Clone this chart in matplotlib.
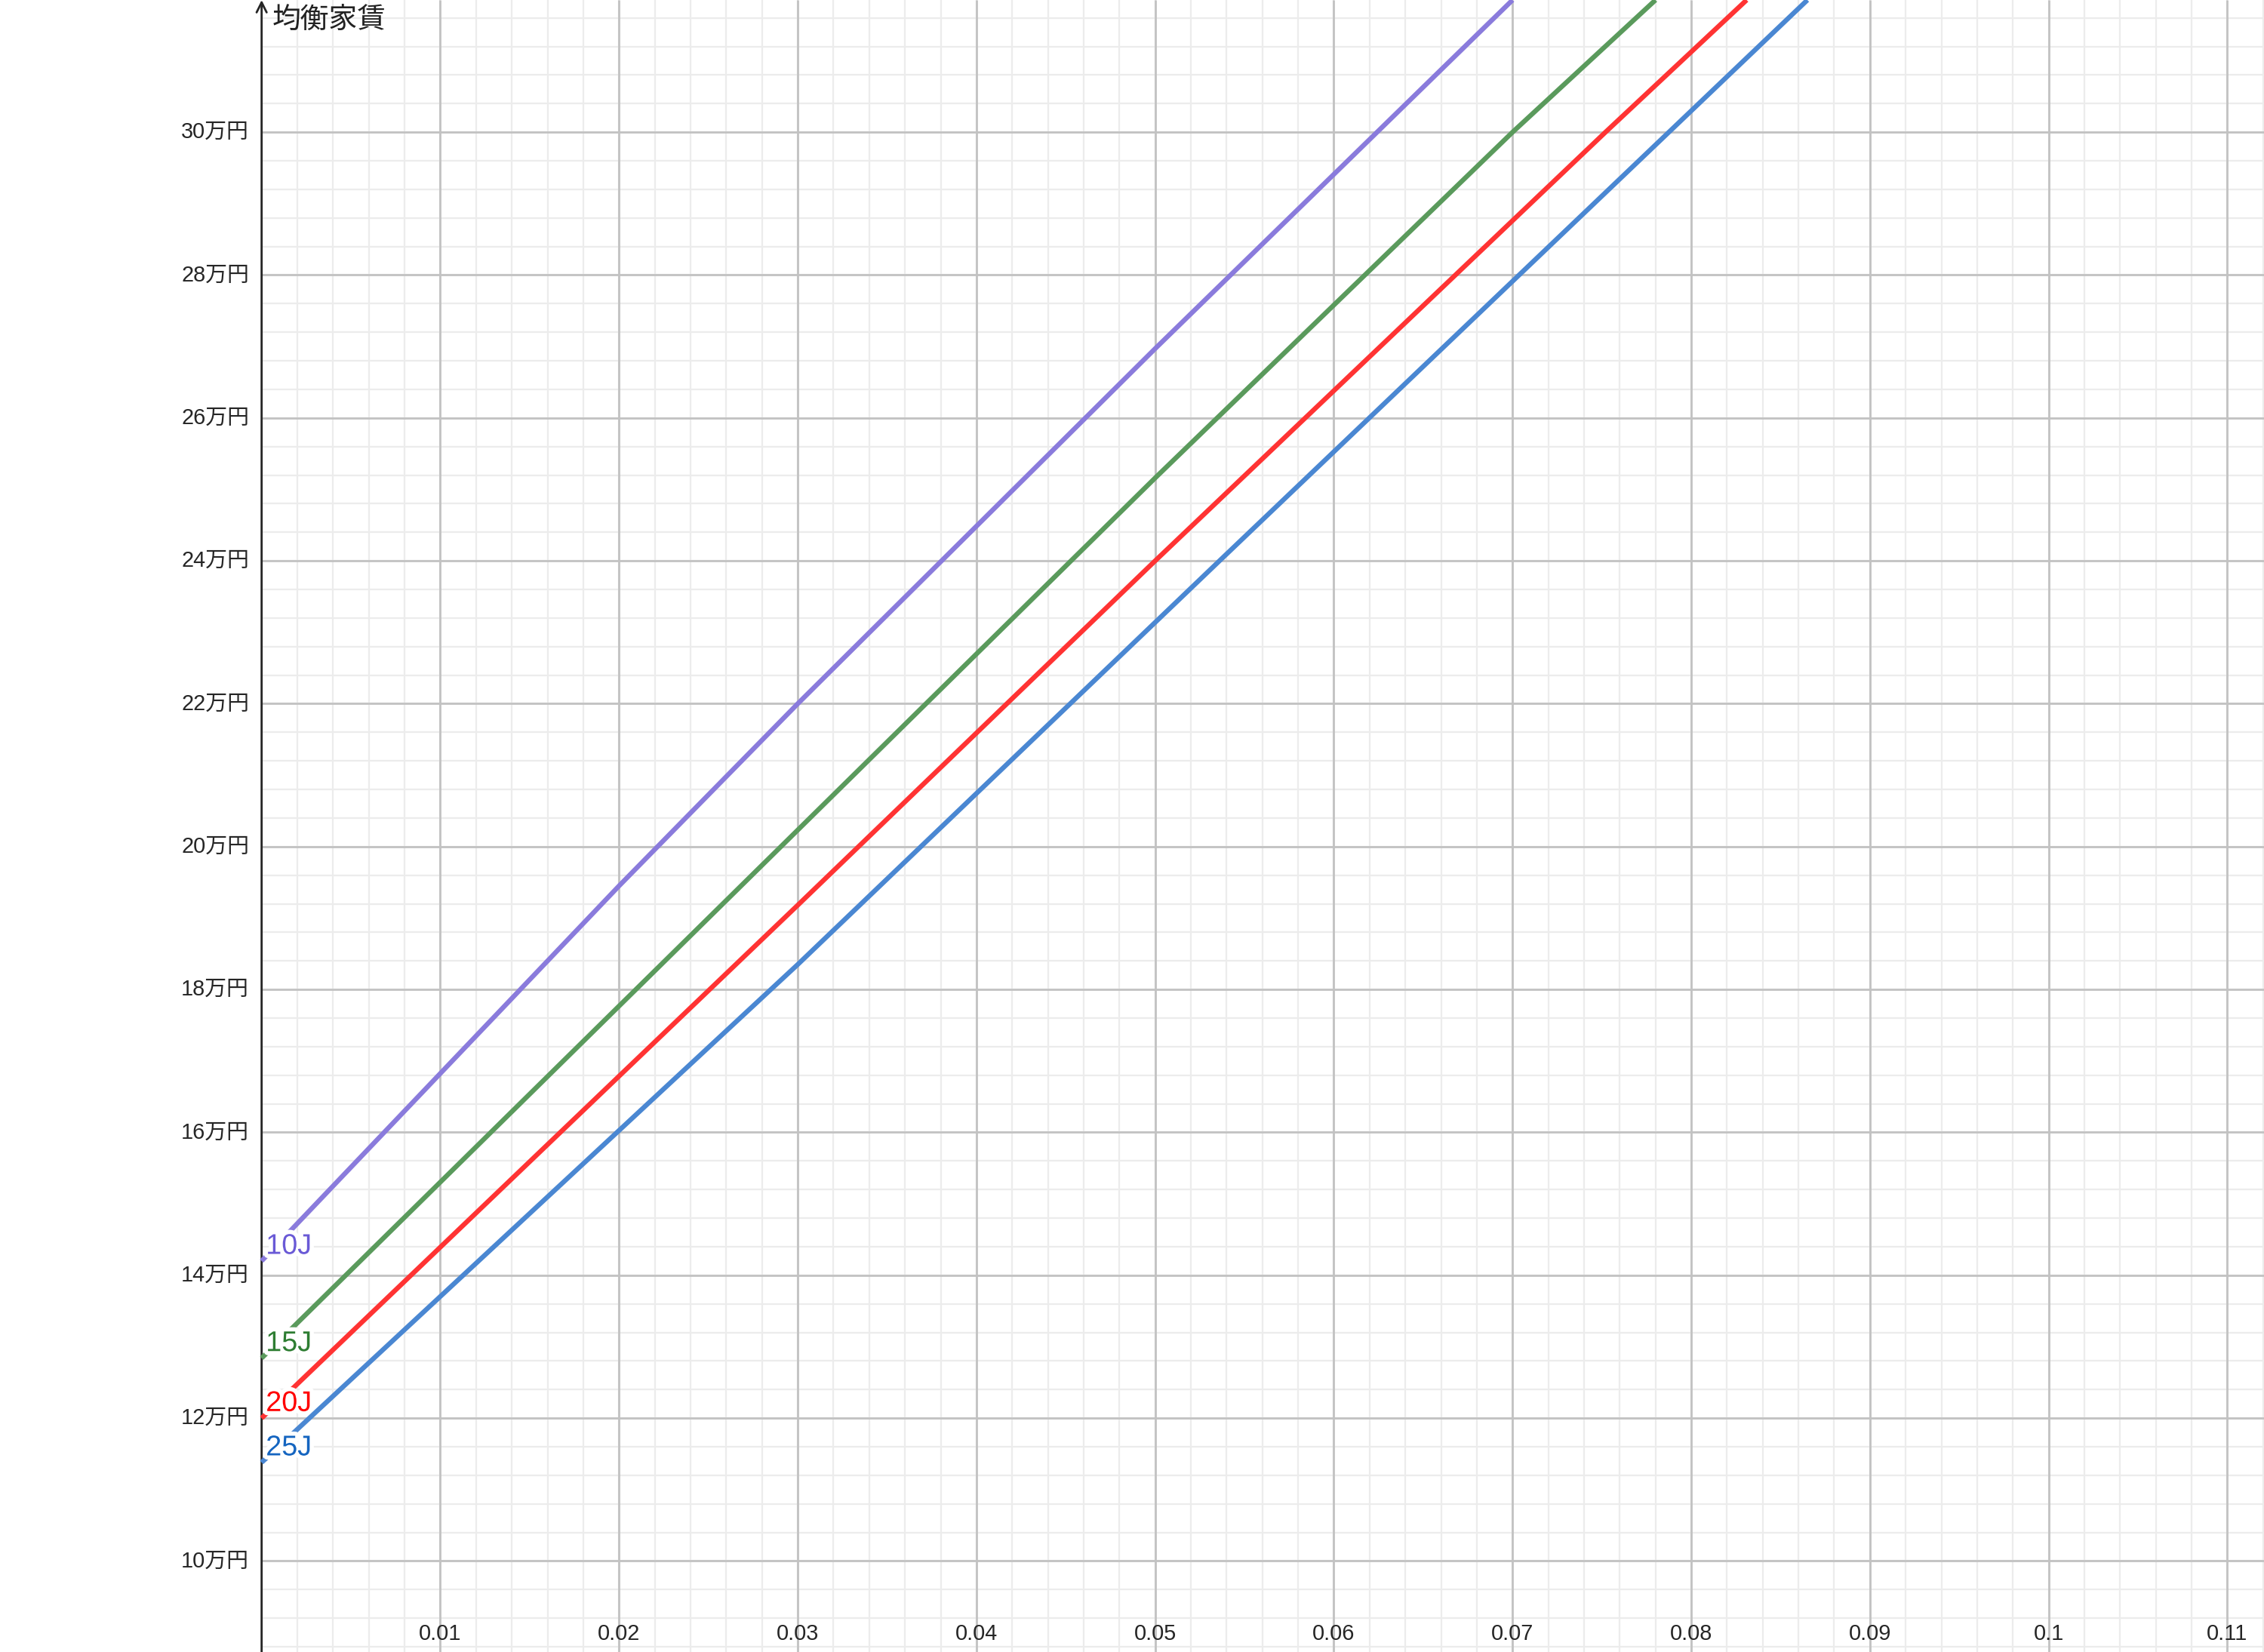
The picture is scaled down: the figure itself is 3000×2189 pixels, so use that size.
import numpy as np
import matplotlib.pyplot as plt
import matplotlib.patheffects as pe

plt.rcParams['font.family'] = ['Liberation Sans', 'Noto Sans CJK JP', 'DejaVu Sans']

# 金利 (x) と 均衡家賃 (万円) — 画像から読み取った点
x_10J = [0.0, 0.02, 0.03, 0.05, 0.07]
y_10J = [14.2, 19.45, 22.0, 26.97, 31.85]
x_15J = [0.0, 0.05, 0.07, 0.078]
y_15J = [12.84, 25.16, 30.0, 31.85]
x_20J = [0.0, 0.03, 0.05, 0.0752, 0.0831]
y_20J = [12.0, 19.18, 24.0, 30.0, 31.85]
x_25J = [0.0, 0.03, 0.0536, 0.0865]
y_25J = [11.38, 18.35, 24.0, 31.85]

series_names = ['10J', '15J', '20J', '25J']
line_colors = ['#8a7bdc', '#5a9a5c', '#ff3333', '#4a87d2']
label_colors = ['#6a5ad6', '#2e7d32', '#ff0000', '#1565c0']

x_ticks = [0.01, 0.02, 0.03, 0.04, 0.05, 0.06, 0.07, 0.08, 0.09, 0.1, 0.11]
x_tick_labels = ['0.01', '0.02', '0.03', '0.04', '0.05', '0.06', '0.07', '0.08', '0.09', '0.1', '0.11']
y_ticks = [10, 12, 14, 16, 18, 20, 22, 24, 26, 28, 30]
y_tick_labels = [f'{v}万円' for v in y_ticks]

XMIN, XMAX = -0.01464, 0.11205
YMIN, YMAX = 8.727, 31.85


def drawGrid(ax):
    minor_x = np.arange(0.002, XMAX, 0.002)
    minor_y = np.arange(8.8, YMAX, 0.4)
    ax.vlines(minor_x, YMIN, YMAX, color='#ececec', lw=0.8, zorder=1)
    ax.hlines(minor_y, 0, XMAX, color='#ececec', lw=0.8, zorder=1)
    ax.vlines(x_ticks, YMIN, YMAX, color='#c2c2c2', lw=1.0, zorder=2)
    ax.hlines(y_ticks, 0, XMAX, color='#c2c2c2', lw=1.0, zorder=2)

    # y軸と矢印
    ax.annotate('', xy=(0, 1.0), xycoords=('data', 'axes fraction'),
                xytext=(0, 0.0), textcoords=('data', 'axes fraction'),
                arrowprops=dict(arrowstyle='->', lw=1.0, color='#252525',
                                mutation_scale=12, shrinkA=0, shrinkB=0),
                zorder=3)
    ax.annotate('均衡家賃', xy=(0, 1.0), xycoords=('data', 'axes fraction'),
                xytext=(5, -10), textcoords='offset points',
                ha='left', va='center', fontsize=13.6, color='#222222')

    for x, lab in zip(x_ticks, x_tick_labels):
        ax.annotate(lab, xy=(x, 0), xycoords=('data', 'axes fraction'),
                    xytext=(0, 8.6), textcoords='offset points',
                    ha='center', va='center', fontsize=10.4, color='#262626')
    for y, lab in zip(y_ticks, y_tick_labels):
        ax.annotate(lab, xy=(0, y), xytext=(-6, 0), textcoords='offset points',
                    ha='right', va='center', fontsize=10.4, color='#262626')


def drawLines(ax):
    xs = [x_10J, x_15J, x_20J, x_25J]
    ys = [y_10J, y_15J, y_20J, y_25J]
    for x, y, name, c, lc in zip(xs, ys, series_names, line_colors, label_colors):
        ax.plot(x, y, color=c, lw=2.3, zorder=4, solid_capstyle='butt')
        t = ax.annotate(name, xy=(x[0], y[0]), xytext=(2, 0.5), textcoords='offset points',
                        ha='left', va='bottom', fontsize=13.6, color=lc, zorder=6)
        t.set_path_effects([pe.withStroke(linewidth=4, foreground='white')])


def main():
    fig = plt.figure(figsize=(15, 10.945), dpi=200)
    ax = fig.add_axes([0, 0, 1, 1])
    ax.set_xlim(XMIN, XMAX)
    ax.set_ylim(YMIN, YMAX)
    ax.axis('off')
    drawGrid(ax)
    drawLines(ax)
    fig.savefig('out.png', dpi=200, facecolor='white')


if __name__ == "__main__":
    main()
